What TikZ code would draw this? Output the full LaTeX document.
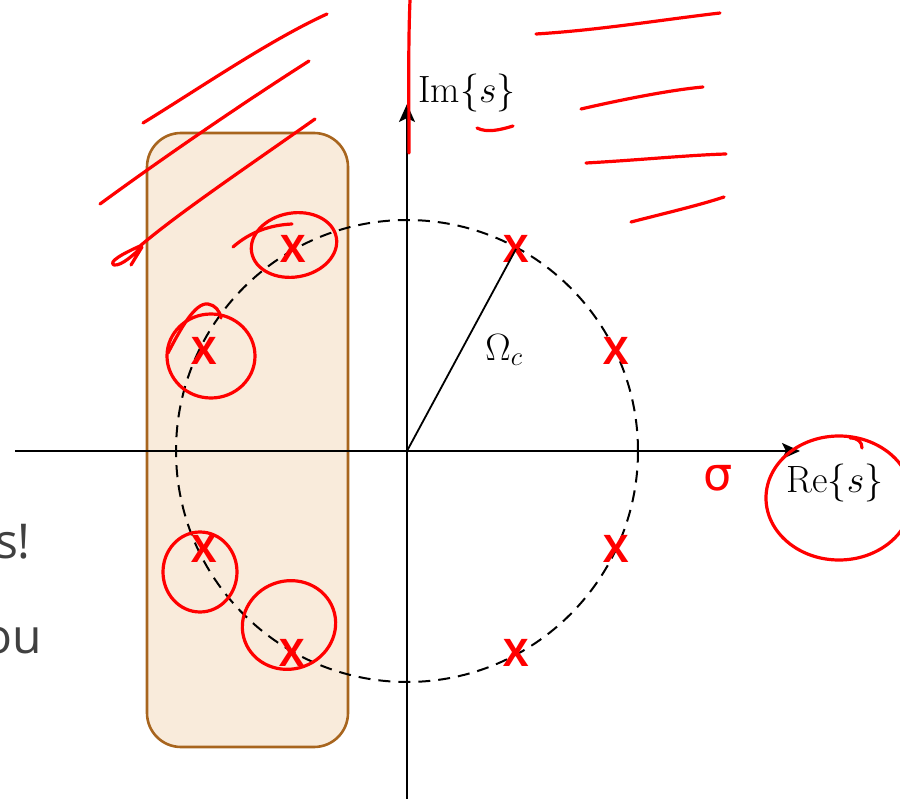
\RequirePackage{fix-cm}
\documentclass[tikz,border=0pt]{standalone}
\usepackage{fontspec}
\newfontfamily\slidefont{Open Sans}
\newfontfamily\markfont{Open Sans}
\newfontfamily\sigfont{DejaVu Sans}
\usetikzlibrary{arrows.meta}
\definecolor{boxfill}{HTML}{F9EBDB}
\definecolor{boxdraw}{HTML}{A8651E}
\definecolor{ink}{HTML}{FF0000}
\definecolor{slidegray}{HTML}{404040}
\tikzset{
  axisline/.style={line width=2pt, black, -{Stealth[length=18pt,width=16pt,inset=4pt]}},
  circleline/.style={line width=2pt, black, dash pattern=on 12pt off 8pt},
  regionbox/.style={draw=boxdraw, fill=boxfill, line width=2.6pt, rounded corners=34pt},
  pole/.style={inner sep=0pt, text=ink, font=\markfont\bfseries\fontsize{38}{40}\selectfont},
  ink/.style={draw=ink, line width=3.2pt, line cap=round, line join=round},
  mathlabel/.style={inner sep=0pt, font=\fontsize{38}{44}\selectfont},
  slidetext/.style={inner sep=0pt, text=slidegray, font=\slidefont\fontsize{48}{56}\selectfont}
}
\begin{document}
\begin{tikzpicture}[x=1pt,y=-1pt]
\useasboundingbox (0,0) rectangle (900,799);
% slide text behind
\node[slidetext, anchor=base east] (t1) at (31,558) {s!};
\node[slidetext, anchor=base east] (t2) at (42,653) {ou};
% region box
\draw[regionbox] (147,133) rectangle (348,747);
% axes
\coordinate (O) at (407,451);
\coordinate (xs) at (15,451);
\coordinate (xe) at (800,451);
\coordinate (ys) at (407,799);
\coordinate (ye) at (407,104);
\draw[axisline] (xs) -- (xe);
\draw[axisline] (ys) -- (ye);
% circle
\draw[circleline] (O) circle [radius=231pt];
% poles
\node[pole] (p1) at (516,249) {X};
\node[pole] (p2) at (616,351) {X};
\node[pole] (p3) at (616,549) {X};
\node[pole] (p4) at (516,653) {X};
\node[pole] (p5) at (292,653) {X};
\node[pole] (p6) at (204,549) {X};
\node[pole] (p7) at (204,351) {X};
\node[pole] (p8) at (293,249) {X};
\draw[line width=1.8pt] (O) -- (p1.center);
% labels
\node[mathlabel] (om) at (504,350) {$\Omega_c$};
\node[mathlabel, anchor=base] (im) at (467,103) {$\mathrm{Im}\{s\}$};
\node[mathlabel, anchor=base] (re) at (835,493) {$\mathrm{Re}\{s\}$};
\node[inner sep=0pt, text=ink, font=\sigfont\fontsize{46}{46}\selectfont] (sig) at (718,478) {σ};
% handwritten annotations
\draw[ink] (410,0) .. controls (408,50) and (409,100) .. (409,153);
\draw[ink] (143,123) .. controls (200,88) and (270,40) .. (327,14);
\draw[ink] (100,204) .. controls (160,160) and (240,105) .. (309,61);
\draw[ink] (315,119) .. controls (250,165) and (180,212) .. (140,246)
  .. controls (122,254) and (108,262) .. (114,265)
  .. controls (122,266) and (134,254) .. (142,247) -- (131,265);
\draw[ink] (536,34) .. controls (600,30) and (660,20) .. (720,13);
\draw[ink] (581,109) .. controls (620,100) and (670,90) .. (703,87);
\draw[ink] (586,163) .. controls (640,160) and (690,155) .. (726,154);
\draw[ink] (631,222) .. controls (670,212) and (700,205) .. (724,197);
\draw[ink] (477,128) .. controls (487,133) and (500,130) .. (513,126);
% circles round poles
\draw[ink, rotate around={10:(294,245)}] (294,245) ellipse [x radius=43pt, y radius=32pt];
\draw[ink] (233,247) .. controls (250,232) and (270,225) .. (292,224);
\draw[ink] (211,356) ellipse [x radius=44pt, y radius=42pt];
\draw[ink] (168,353) .. controls (180,330) and (195,302) .. (208,304) .. controls (215,305) and (220,311) .. (221,318);
\draw[ink] (200,572) ellipse [x radius=37pt, y radius=40pt];
\draw[ink, rotate around={20:(289,625)}] (289,625) ellipse [x radius=47pt, y radius=44pt];
\draw[ink] (839,498) ellipse [x radius=73pt, y radius=62pt];
\draw[ink] (850,438) .. controls (858,438) and (862,442) .. (862,448);
\end{tikzpicture}
\end{document}
